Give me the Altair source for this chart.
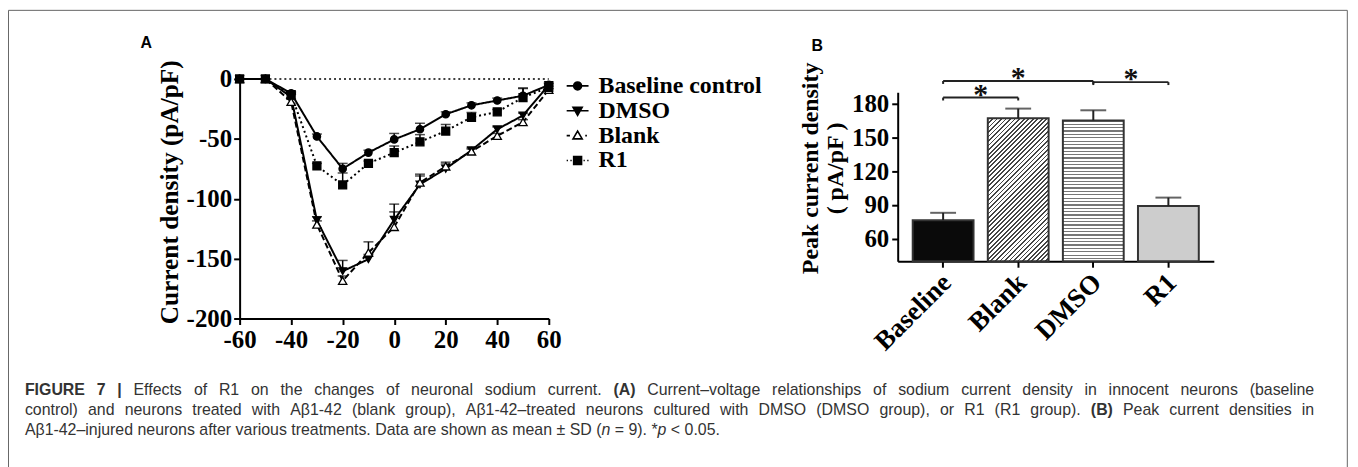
import altair as alt
import pandas as pd

# ---------------- data ----------------
voltage = [-60, -50, -40, -30, -20, -10, 0, 10, 20, 30, 40, 50, 60]
series_order = ["Baseline control", "DMSO", "Blank", "R1"]
baseline_mean = [0, 0, -12, -48, -75, -61.5, -50.5, -42, -29.5, -22, -18, -14, -5]
baseline_err = [0, 0, 1.5, 2, 4.5, 2, 5, 5, 2, 2, 2, 6, 2]
dmso_mean = [0, 0, -15, -118, -160.5, -150.5, -117.5, -88, -75, -59.5, -42, -30.5, -5]
dmso_err = [0, 0, 2, 3, 9, 4, 13, 7, 4, 2, 2, 2, 1]
blank_mean = [0, 0, -19, -121.5, -168.5, -145, -123.5, -86.5, -73, -60.5, -47.5, -36, -9]
blank_err = [0, 0, 2, 3, 4, 9, 12.5, 7, 3.5, 2, 2, 2, 1]
r1_mean = [0, 0, -13, -72.5, -88.5, -70.5, -61.5, -52.5, -43.5, -32, -27.5, -15.5, -7]
r1_err = [0, 0, 1.5, 2, 10, 2, 5.5, 6, 5.5, 4, 2, 8, 1]

groups = ["Baseline", "Blank", "DMSO", "R1"]
peak_mean = [76.5, 167, 165, 89]
peak_sd = [6.5, 8.5, 9, 7.5]

bracket_start = ["Baseline", "Baseline", "DMSO"]
bracket_end = ["Blank", "DMSO", "R1"]
bracket_level = [185.3, 200, 199]

caption_l1 = [("FIGURE 7 |", "bold"), (" Effects of R1 on the changes of neuronal sodium current. ", "normal"),
              ("(A)", "bold"),
              (" Current–voltage relationships of sodium current density in innocent neurons (baseline", "normal")]
caption_l2 = [("control) and neurons treated with Aβ1-42 (blank group), Aβ1-42–treated neurons cultured with DMSO (DMSO group), or R1 (R1 group). ", "normal"),
              ("(B)", "bold"), (" Peak current densities in", "normal")]
caption_l3 = [("Aβ1-42–injured neurons after various treatments. Data are shown as mean ± SD (", "normal"),
              ("n", "italic"), (" = 9). *", "normal"), ("p", "italic"), (" < 0.05.", "normal")]

# ---------------- tables ----------------
rows = []
for name, means, errs in zip(series_order,
                             [baseline_mean, dmso_mean, blank_mean, r1_mean],
                             [baseline_err, dmso_err, blank_err, r1_err]):
    for v, m, e in zip(voltage, means, errs):
        rows.append({"series": name, "voltage": v, "current": m, "err": e, "top": m + e})
dfA = pd.DataFrame(rows)

dfB = pd.DataFrame({"group": groups, "mean": peak_mean, "sd": peak_sd})
dfB["top"] = dfB["mean"] + dfB["sd"]
dfB["base"] = 40

idx = {g: i for i, g in enumerate(groups)}
dfBr = pd.DataFrame({"s": [idx[g] for g in bracket_start],
                     "e": [idx[g] for g in bracket_end],
                     "level": bracket_level})
dfBr["mid"] = (dfBr["s"] + dfBr["e"]) / 2
dfBr["low"] = dfBr["level"] - 2.6
dfEnds = pd.concat([dfBr[["s", "level", "low"]].rename(columns={"s": "p"}),
                    dfBr[["e", "level", "low"]].rename(columns={"e": "p"})])

# ---------------- geometry / style ----------------
W, H = 1350, 459
SERIF = "Liberation Serif"
SANS = "Liberation Sans"

A_X_RANGE = [233, 544]
A_Y_RANGE = [311, 70]
B_X_RANGE = [895, 1213]
B_Y_RANGE = [253.4, 83.4]
B_PI, B_PO = 0.19, 0.2
step = (B_X_RANGE[1] - B_X_RANGE[0]) / (len(groups) - B_PI + 2 * B_PO)
c0 = B_X_RANGE[0] + B_PO * step + step * (1 - B_PI) / 2
c3 = c0 + 3 * step

axis_common = dict(labelFont=SERIF, labelFontWeight="bold", labelColor="black",
                   tickColor="black", tickWidth=2, tickSize=6, domainColor="black",
                   domainWidth=2, grid=False, labelFlush=False, labelOverlap=False)
hyphen_expr = "datum.value < 0 ? '-' + abs(datum.value) : '' + datum.value"

xA_scale = alt.Scale(domain=[-60, 60], range=A_X_RANGE, nice=False, zero=False)
yA_scale = alt.Scale(domain=[-200, 0], range=A_Y_RANGE, nice=False, zero=False)

xA_axis = alt.Axis(orient="bottom", offset=A_Y_RANGE[0] - H, values=[-60, -40, -20, 0, 20, 40, 60],
                   labelFontSize=25, labelPadding=3, title=None, labelExpr=hyphen_expr, **axis_common)
yA_axis = alt.Axis(orient="left", offset=-A_X_RANGE[0], values=[-200, -150, -100, -50, 0],
                   labelFontSize=25, labelPadding=2, title="Current density (pA/pF)",
                   labelExpr=hyphen_expr,
                   titleFont=SERIF, titleFontSize=25.5, titleFontWeight="bold", titleColor="black",
                   titleX=-57, titleY=183.5, **axis_common)

series_style = {
    "Baseline control": dict(dash=[1, 0], shape="circle", fill="black", size=55),
    "DMSO": dict(dash=[1, 0], shape="triangle-down", fill="black", size=60),
    "Blank": dict(dash=[6, 3], shape="triangle-up", fill="white", size=70),
    "R1": dict(dash=[2, 3], shape="square", fill="black", size=64),
}

baseA = alt.Chart(dfA)
xA_noaxis = alt.X("voltage:Q", scale=xA_scale, axis=None)

zero_line = alt.Chart(pd.DataFrame({"z": [0]})).mark_rule(
    color="black", strokeWidth=1.5, strokeDash=[2, 3]).encode(
    x=alt.datum(-60, scale=xA_scale, type="quantitative", axis=xA_axis),
    x2=alt.datum(60),
    y=alt.datum(0, scale=yA_scale, type="quantitative", axis=yA_axis))

line_layers = []
point_layers = []
for name in series_order:
    st = series_style[name]
    sub = baseA.transform_filter(alt.datum.series == name)
    line_layers.append(sub.mark_line(color="black", strokeWidth=2, strokeDash=st["dash"]).encode(
        x=xA_noaxis, y=alt.Y("current:Q", scale=yA_scale, axis=None)))
    point_layers.append(sub.mark_point(shape=st["shape"], filled=True, fill=st["fill"], stroke="black",
                                       strokeWidth=1.3, opacity=1, size=st["size"]).encode(
        x=xA_noaxis, y=alt.Y("current:Q", scale=yA_scale, axis=None)))

errA = baseA.transform_filter(alt.datum.err > 0).mark_rule(color="black", strokeWidth=1.5).encode(
    x=xA_noaxis, y=alt.Y("current:Q", scale=yA_scale, axis=None), y2="top:Q")
capA = baseA.transform_filter(alt.datum.err > 0).mark_tick(
    orient="horizontal", size=10, thickness=1.5, color="black").encode(
    x=xA_noaxis, y=alt.Y("top:Q", scale=yA_scale, axis=None))

legend_paths = [
    "M-1,0L1,0M0.36,0A0.36,0.36,0,1,1,-0.36,0A0.36,0.36,0,1,1,0.36,0Z",
    "M-1,0L1,0M-0.42,-0.32L0.42,-0.32L0,0.42Z",
    "M-1,0L-0.7,0M0.7,0L0.85,0M-0.42,0.3L0.42,0.3L0,-0.42Z",
    "M-1,0L-0.88,0M-0.66,0L-0.54,0M0.54,0L0.66,0M0.88,0L1,0M-0.36,-0.36L0.36,-0.36L0.36,0.36L-0.36,0.36Z",
]
leg = alt.Legend(orient="none", legendX=561, legendY=65, title=None, symbolSize=484,
                 symbolStrokeWidth=1.6, symbolStrokeColor="black", symbolOpacity=1,
                 labelFont=SERIF, labelFontSize=24, labelFontWeight="bold", labelColor="black",
                 labelOffset=9, rowPadding=1, padding=0, labelLimit=400, offset=0)
legend_layer = alt.Chart(pd.DataFrame({"lg": series_order})).transform_calculate(
    lx="0", ly="5000").mark_point(filled=True, strokeWidth=1.6, opacity=1).encode(
    x=alt.X("lx:Q", scale=xA_scale, axis=None),
    y=alt.Y("ly:Q", scale=yA_scale, axis=None),
    shape=alt.Shape("lg:N", scale=alt.Scale(domain=series_order, range=legend_paths), legend=leg),
    fill=alt.Fill("lg:N", scale=alt.Scale(domain=series_order,
                  range=["black", "black", "white", "black"]), legend=leg),
    stroke=alt.Stroke("lg:N", scale=alt.Scale(domain=series_order,
                      range=["black", "black", "black", "black"]), legend=leg))

# ---------------- panel B ----------------
xB_scale = alt.Scale(domain=groups, range=B_X_RANGE, paddingInner=B_PI, paddingOuter=B_PO)
yB_scale = alt.Scale(domain=[40, 190], range=B_Y_RANGE, nice=False, zero=False)
xBi_scale = alt.Scale(domain=[0, 3], range=[c0, c3], nice=False, zero=False)

xB_axis = alt.Axis(orient="bottom", offset=B_Y_RANGE[0] - H, labelAngle=-45, labelAlign="right",
                   labelBaseline="middle", labelFontSize=27, labelPadding=11, labelOffset=4,
                   title=None, **axis_common)
yB_axis = alt.Axis(orient="left", offset=-B_X_RANGE[0], values=[60, 90, 120, 150, 180],
                   labelFontSize=25, labelPadding=3, title=["Peak current density", "( pA/pF )"],
                   titleFont=SERIF, titleFontSize=24, titleFontWeight="bold", titleColor="black",
                   titleLineHeight=25, titleX=-76, titleY=159.5, **axis_common)


def stripe_stops(n, dark, light, frac):
    stops = []
    for i in range(n):
        a, b, c = i / n, (i + frac) / n, (i + 1) / n
        stops += [alt.GradientStop(offset=a, color=dark), alt.GradientStop(offset=b, color=dark),
                  alt.GradientStop(offset=b, color=light), alt.GradientStop(offset=c, color=light)]
    return stops


bw = step * (1 - B_PI)
h_blank = (167 - 40) * (B_Y_RANGE[0] - B_Y_RANGE[1]) / 150
kk = (bw + h_blank) / (bw ** 2 + h_blank ** 2)
blank_fill = alt.LinearGradient(gradient="linear", x1=0, y1=0, x2=bw * kk, y2=h_blank * kk,
                                stops=stripe_stops(45, "#444444", "#ffffff", 0.4))
dmso_fill = alt.LinearGradient(gradient="linear", x1=0, y1=0, x2=0, y2=1,
                               stops=stripe_stops(42, "#777777", "#ffffff", 0.38))
bar_fills = {"Baseline": "#0a0a0a", "Blank": blank_fill, "DMSO": dmso_fill, "R1": "#cdcdcd"}

baseB = alt.Chart(dfB)
bar_layers = []
for i, g in enumerate(groups):
    bar_layers.append(
        baseB.transform_filter(alt.datum.group == g).mark_bar(
            fill=bar_fills[g], stroke="#333333", strokeWidth=2).encode(
            x=alt.X("group:N", scale=xB_scale, sort=groups, axis=xB_axis if i == 0 else None),
            y=alt.Y("mean:Q", scale=yB_scale, axis=yB_axis if i == 0 else None),
            y2="base:Q"))

errB = baseB.mark_rule(color="#222", strokeWidth=2).encode(
    x=alt.X("group:N", scale=xB_scale, sort=groups, axis=None),
    y=alt.Y("mean:Q", scale=yB_scale, axis=None), y2="top:Q")
capB = baseB.mark_tick(orient="horizontal", size=26, thickness=2, color="#222").encode(
    x=alt.X("group:N", scale=xB_scale, sort=groups, axis=None),
    y=alt.Y("top:Q", scale=yB_scale, axis=None))

br = alt.Chart(dfBr).mark_rule(color="#222", strokeWidth=2).encode(
    x=alt.X("s:Q", scale=xBi_scale, axis=None), x2="e:Q",
    y=alt.Y("level:Q", scale=yB_scale, axis=None))
br_ends = alt.Chart(dfEnds).mark_rule(color="#222", strokeWidth=2).encode(
    x=alt.X("p:Q", scale=xBi_scale, axis=None),
    y=alt.Y("level:Q", scale=yB_scale, axis=None), y2="low:Q")
stars = alt.Chart(dfBr).transform_calculate(star="'*'").mark_text(
    font=SERIF, fontWeight="bold", fontSize=30, color="#111", baseline="alphabetic", dy=6).encode(
    x=alt.X("mid:Q", scale=xBi_scale, axis=None),
    y=alt.Y("level:Q", scale=yB_scale, axis=None), text="star:N")

# ---------------- caption layout (justified, Arial/Liberation Sans metrics) ----------------
REG = {" ": 278, "(": 333, ")": 333, "*": 389, ",": 278, "-": 333, ".": 278, "/": 278, "<": 584,
       "=": 584, "|": 260, "–": 556, "±": 549, "β": 575,
       "A": 667, "B": 667, "C": 722, "D": 722, "E": 667, "F": 611, "G": 778, "H": 722, "I": 278,
       "J": 500, "K": 667, "L": 556, "M": 833, "N": 722, "O": 778, "P": 667, "Q": 778, "R": 722,
       "S": 667, "T": 611, "U": 722, "V": 667, "W": 944, "X": 667, "Y": 667, "Z": 611,
       "a": 556, "b": 556, "c": 500, "d": 556, "e": 556, "f": 278, "g": 556, "h": 556, "i": 222,
       "j": 222, "k": 500, "l": 222, "m": 833, "n": 556, "o": 556, "p": 556, "q": 556, "r": 333,
       "s": 500, "t": 278, "u": 556, "v": 500, "w": 722, "x": 500, "y": 500, "z": 500}
BOLD = {"A": 722, "B": 722, "|": 280}
CAP_FS = 16
CAP_X0 = 17
CAP_X1 = 1314
CAP_Y = [383, 403, 423]


def text_w(s, style):
    tot = 0
    for ch in s:
        if ch.isdigit():
            tot += 556
        elif style == "bold" and ch in BOLD:
            tot += BOLD[ch]
        else:
            tot += REG.get(ch, 556)
    return tot * CAP_FS / 1000.0


def layout(runs, y, justify):
    words, cur = [], []
    for text, style in runs:
        pieces = text.split(" ")
        for j, piece in enumerate(pieces):
            if j > 0 and cur:
                words.append(cur)
                cur = []
            if piece:
                cur.append((piece, style))
    if cur:
        words.append(cur)
    wsum = sum(text_w(t, s) for w in words for t, s in w)
    gap = text_w(" ", "normal")
    if justify and len(words) > 1:
        gap = (CAP_X1 - CAP_X0 - wsum) / (len(words) - 1)
    out, x = [], CAP_X0
    for w in words:
        for t, s in w:
            out.append({"t": t, "x": x, "y": y, "style": s})
            x += text_w(t, s)
        x += gap
    return out


cap_rows = (layout(caption_l1, CAP_Y[0], True) + layout(caption_l2, CAP_Y[1], True)
            + layout(caption_l3, CAP_Y[2], False))
dfCap = pd.DataFrame(cap_rows)
id_x = alt.Scale(domain=[0, W], range=[0, W], nice=False, zero=False)
id_y = alt.Scale(domain=[0, H], range=[0, H], nice=False, zero=False)
cap_layers = []
for style in ["normal", "bold", "italic"]:
    cap_layers.append(alt.Chart(dfCap).transform_filter(alt.datum.style == style).mark_text(
        font=SANS, fontSize=CAP_FS, fontWeight="bold" if style == "bold" else "normal",
        fontStyle="italic" if style == "italic" else "normal",
        color="#333333", align="left", baseline="middle").encode(
        x=alt.X("x:Q", scale=id_x, axis=None), y=alt.Y("y:Q", scale=id_y, axis=None), text="t:N"))


def label(text, x, y, size):
    return alt.Chart(pd.DataFrame({"t": [text]})).mark_text(
        font=SANS, fontSize=size, fontWeight="bold", color="black", align="center",
        baseline="middle").encode(x=alt.value(x), y=alt.value(y), text="t:N")


panel_labels = [label("A", 139, 34, 16), label("B", 814, 37, 16)]

frame = alt.Chart(pd.DataFrame({"f": [0]})).mark_rect(
    fill="white", fillOpacity=0, stroke="#666666", strokeWidth=1).encode(
    x=alt.value(0.5), x2=alt.value(1347.3), y=alt.value(1), y2=alt.value(560))

chart = alt.layer(
    frame, zero_line, *line_layers, errA, capA, *point_layers, legend_layer,
    *bar_layers, errB, capB, br, br_ends, stars, *cap_layers, *panel_labels
).resolve_scale(
    x="independent", y="independent", shape="independent", fill="independent",
    stroke="independent"
).properties(
    width=W, height=H, padding=0, autosize=alt.AutoSizeParams(type="none"),
    background="white"
).configure_view(strokeWidth=0)

chart.save("out.html", embed_options={"renderer": "svg", "actions": False})
